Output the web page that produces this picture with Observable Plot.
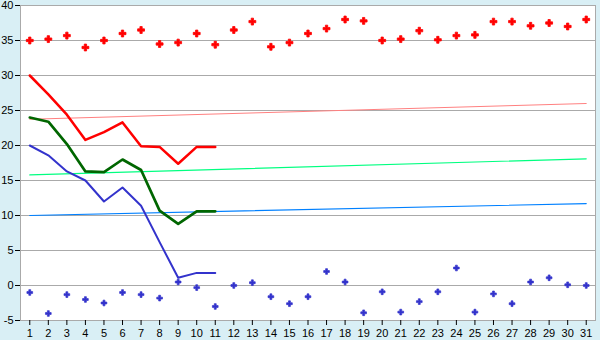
<!DOCTYPE html>
<html>
<head>
<meta charset="utf-8">
<script src="https://cdn.jsdelivr.net/npm/d3@7"></script>
<script src="https://cdn.jsdelivr.net/npm/@observablehq/plot@0.6"></script>
<style>
  html, body { margin: 0; padding: 0; background: #d9eff5; }
  #chart svg { display: block; }
</style>
</head>
<body>
<div id="chart"></div>
<script>
const days = [1,2,3,4,5,6,7,8,9,10,11,12,13,14,15,16,17,18,19,20,21,22,23,24,25,26,27,28,29,30,31];
const highs = [35.0,35.2,35.7,34.0,35.0,36.0,36.5,34.5,34.7,36.0,34.4,36.5,37.7,34.1,34.7,36.0,36.7,38.0,37.8,35.0,35.2,36.4,35.1,35.7,35.8,37.7,37.7,37.1,37.5,37.0,38.0];
const lows = [-1.0,-4.0,-1.3,-2.0,-2.5,-1.0,-1.3,-1.8,0.5,-0.3,-3.0,0.0,0.4,-1.6,-2.6,-1.6,2.0,0.5,-3.9,-0.9,-3.8,-2.3,-0.9,2.5,-3.8,-1.2,-2.6,0.5,1.1,0.1,0.0];
const lineDays = [1,2,3,4,5,6,7,8,9,10,11];
const redLine = [30.0,27.3,24.4,20.8,21.9,23.3,19.9,19.8,17.4,19.8,19.8];
const greenLine = [24.0,23.4,20.2,16.3,16.2,18.0,16.5,10.7,8.8,10.6,10.6];
const blueLine = [20.0,18.6,16.3,15.0,12.0,14.0,11.4,6.2,1.1,1.8,1.8];
const trendDays = [1,31];
const pinkTrend = [23.75,26.0];
const greenTrend = [15.8,18.1];
const blueTrend = [10.0,11.7];
const yTicks = [-5,0,5,10,15,20,25,30,35,40];

const pts = (xs, ys) => xs.map((x, i) => ({x, y: ys[i]}));

const chart = Plot.plot({
  width: 600,
  height: 340,
  marginLeft: 20,
  marginRight: 5,
  marginTop: 5,
  marginBottom: 20,
  style: {background: "#d9eff5", fontFamily: "'Liberation Sans', Arial, sans-serif", fontSize: "11px", color: "black"},
  x: {domain: [0.5, 31.5]},
  y: {domain: [-5, 40]},
  marks: [
    Plot.frame({fill: "white", stroke: "none"}),
    Plot.ruleY(yTicks, {stroke: "#aaaaaa", strokeWidth: 1}),
    Plot.frame({stroke: "#aaaaaa"}),
    Plot.axisY(yTicks, {tickSize: 5, tickPadding: 2, label: null, stroke: "black", tickFormat: d => d < 0 ? "-" + Math.abs(d) : String(d)}),
    Plot.axisX(days, {tickSize: 5, tickPadding: 4, label: null, stroke: "black"}),
    Plot.line(pts(trendDays, pinkTrend), {x: "x", y: "y", stroke: "#ff8080", strokeWidth: 1}),
    Plot.line(pts(trendDays, greenTrend), {x: "x", y: "y", stroke: "#00ff80", strokeWidth: 1.2}),
    Plot.line(pts(trendDays, blueTrend), {x: "x", y: "y", stroke: "#0080ff", strokeWidth: 1.2}),
    Plot.line(pts(lineDays, redLine), {x: "x", y: "y", stroke: "#ff0000", strokeWidth: 2.5}),
    Plot.line(pts(lineDays, greenLine), {x: "x", y: "y", stroke: "#006600", strokeWidth: 2.7}),
    Plot.line(pts(lineDays, blueLine), {x: "x", y: "y", stroke: "#3333cc", strokeWidth: 2}),
    Plot.dot(pts(days, highs), {x: "x", y: "y", symbol: "cross", r: 2.9, fill: "#ff0000", stroke: "#ff0000", strokeWidth: 0.8}),
    Plot.dot(pts(days, lows), {x: "x", y: "y", symbol: "cross", r: 2.4, fill: "#3333cc", stroke: "#3333cc", strokeWidth: 0.7})
  ]
});
document.getElementById("chart").appendChild(chart);
</script>
</body>
</html>
